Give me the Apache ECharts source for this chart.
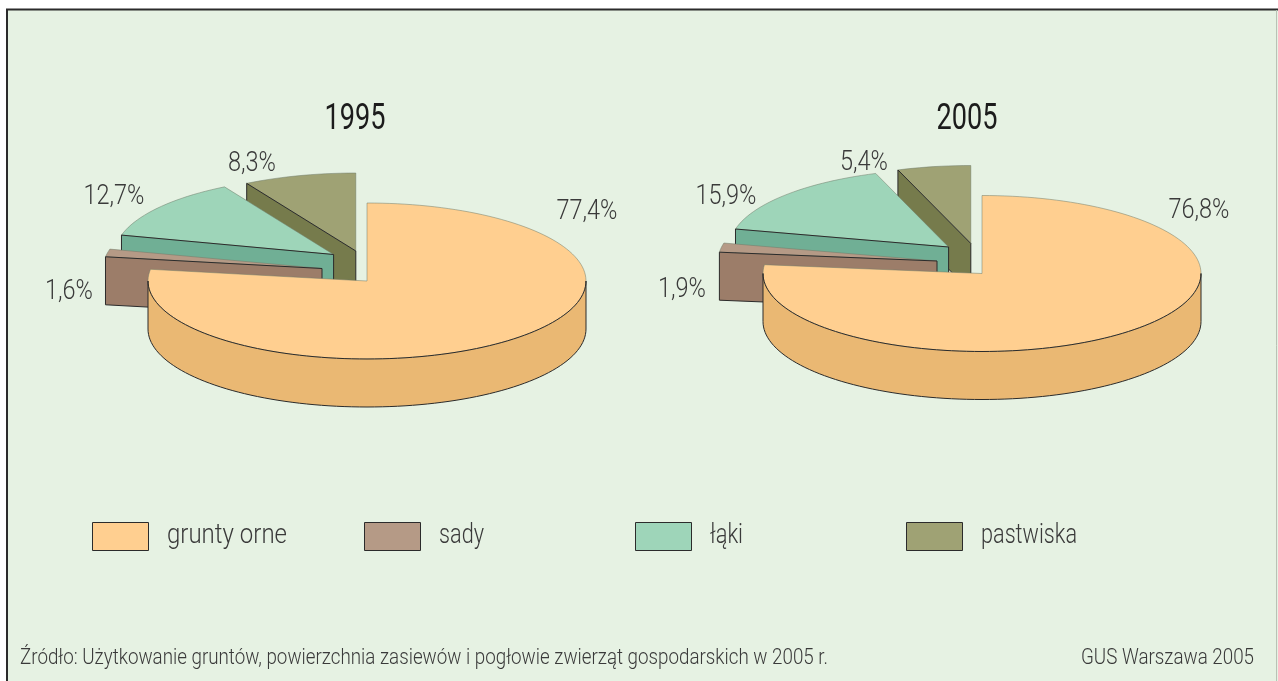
<!DOCTYPE html>
<html>
<head>
<meta charset="utf-8">
<style>
html, body { margin: 0; padding: 0; background: #fff; }
#chart { width: 1278px; height: 681px; }
</style>
<script src="https://cdn.jsdelivr.net/npm/echarts@6/dist/echarts.min.js"></script>
</head>
<body>
<div id="chart"></div>
<script>
var years = ['1995', '2005'];
var categories = ['grunty orne', 'sady', 'łąki', 'pastwiska'];
var gruntyOrne = [77.4, 76.8];
var sady = [1.6, 1.9];
var laki = [12.7, 15.9];
var pastwiska = [8.3, 5.4];
var values = [gruntyOrne, sady, laki, pastwiska];

var topColors = ['#FFCF90', '#B59A86', '#9ED5B9', '#9FA274'];
var wallColors = ['#EAB873', '#9C7D69', '#70AF95', '#767B4C'];
var exploded = [[0, 0], [-45, -12.5], [-33.4, -26.5], [-11.2, -30]];
var centers = [[367, 281], [982, 273.5]];
var labelPos = [
    [[587, 220], [69, 300], [114, 205], [252, 172]],
    [[1199, 219], [682, 298], [726, 205], [864, 171]]
];
var legendLeft = [92, 364, 635, 906];
var legendTextWidth = [120, 45, 33, 96];
var rx = 219, ry = 78, depth = 48;
var fontName = 'Roboto, "Liberation Sans", sans-serif';
var textColor = '#3a3a3a';

// the original lettering is a light condensed face, none is installed so squeeze it
var measure = document.createElement('canvas').getContext('2d');
function squeeze(text, font, width) {
    measure.font = font;
    return width / measure.measureText(text).width;
}

// y is the text baseline
function textItem(text, x, y, size, scale, align, weight, color) {
    return {
        type: 'text',
        x: x,
        y: y - size * 0.78,
        scaleX: scale,
        style: { text: text, fill: color || textColor, font: weight + ' ' + size + 'px ' + fontName, align: align, verticalAlign: 'top' }
    };
}

function fitted(text, x, y, size, width, align, weight, color) {
    return textItem(text, x, y, size, squeeze(text, weight + ' ' + size + 'px ' + fontName, width), align, weight, color);
}

var labelScale = squeeze('77,4%', '300 27px ' + fontName, 61);

function point(c, deg) {
    var a = deg * Math.PI / 180;
    return [c[0] + rx * Math.sin(a), c[1] - ry * Math.cos(a)];
}

function arcPoints(c, from, to) {
    var pts = [], n = Math.max(2, Math.ceil(Math.abs(to - from) / 2));
    for (var i = 0; i <= n; i++) {
        pts.push(point(c, from + (to - from) * i / n));
    }
    return pts;
}

function drop(pts) {
    return pts.map(function (p) { return [p[0], p[1] + depth]; }).reverse();
}

function renderSlice(catIdx) {
    return function (params, api) {
        var yearIdx = params.dataIndex;
        var before = 0;
        for (var i = 0; i < catIdx; i++) before += values[i][yearIdx];
        var start = before * 3.6;
        var end = start + api.value(0) * 3.6;
        var base = centers[yearIdx];
        var c = [base[0] + exploded[catIdx][0], base[1] + exploded[catIdx][1]];
        var children = [];

        // top face
        children.push({
            type: 'polygon',
            shape: { points: [c].concat(arcPoints(c, start, end)) },
            style: { fill: topColors[catIdx], stroke: '#6f7a68', lineWidth: 0.5 }
        });
        // radial wall, only faces the viewer on the left half
        if (start >= 180 && start < 360) {
            var edge = [point(c, start), c];
            children.push({
                type: 'polygon',
                shape: { points: edge.concat(drop(edge)) },
                style: { fill: wallColors[catIdx], stroke: '#2b2b2b', lineWidth: 1 }
            });
        }
        // rim, front half of the ellipse
        var from = Math.max(start, 90), to = Math.min(end, 270);
        if (to > from) {
            var rim = arcPoints(c, from, to);
            children.push({
                type: 'polygon',
                shape: { points: rim.concat(drop(rim)) },
                style: { fill: wallColors[catIdx], stroke: '#2b2b2b', lineWidth: 1 }
            });
        }
        return { type: 'group', children: children };
    };
}

var texts = [
    fitted(years[0], 355, 130, 36, 61, 'center', 400, '#1c1c1c'),
    fitted(years[1], 967, 130, 36, 61, 'center', 400, '#1c1c1c'),
    fitted('Źródło: Użytkowanie gruntów, powierzchnia zasiewów i pogłowie zwierząt gospodarskich w 2005 r.', 20, 665, 22, 808, 'left', 300),
    fitted('GUS Warszawa 2005', 1254, 665, 22, 173, 'right', 300)
];
categories.forEach(function (name, i) {
    texts.push(fitted(name, legendLeft[i] + 75, 544, 28, legendTextWidth[i], 'left', 300));
    values[i].forEach(function (v, y) {
        var pos = labelPos[y][i];
        texts.push(textItem(v.toFixed(1).replace('.', ',') + '%', pos[0], pos[1], 27, labelScale, 'center', 300));
    });
});

var chart = echarts.init(document.getElementById('chart'), null, { renderer: 'canvas' });
chart.setOption({
    animation: false,
    tooltip: { show: false },
    graphic: [{
        type: 'rect',
        z: -10,
        shape: { x: 7, y: 9.5, width: 1300, height: 700 },
        style: { fill: '#E6F2E3', stroke: '#2b2b2b', lineWidth: 2 }
    }, {
        type: 'line',
        z: -9,
        shape: { x1: 1276.5, y1: 10, x2: 1276.5, y2: 681 },
        style: { stroke: '#b9c2b5', lineWidth: 1 }
    }].concat(texts.map(function (t) { t.z = 50; return t; })),
    legend: categories.map(function (name, i) {
        return {
            data: [name],
            left: legendLeft[i],
            top: 522,
            padding: 0,
            itemWidth: 56,
            itemHeight: 28,
            selectedMode: false,
            icon: 'rect',
            formatter: function () { return ''; },
            itemStyle: { borderColor: '#2b2b2b', borderWidth: 1 }
        };
    }),
    series: categories.map(function (name, i) {
        return {
            name: name,
            type: 'custom',
            coordinateSystem: 'none',
            z: 10 - i,
            silent: true,
            itemStyle: { color: topColors[i] },
            data: values[i].map(function (v) { return [v]; }),
            renderItem: renderSlice(i)
        };
    })
});
</script>
</body>
</html>
